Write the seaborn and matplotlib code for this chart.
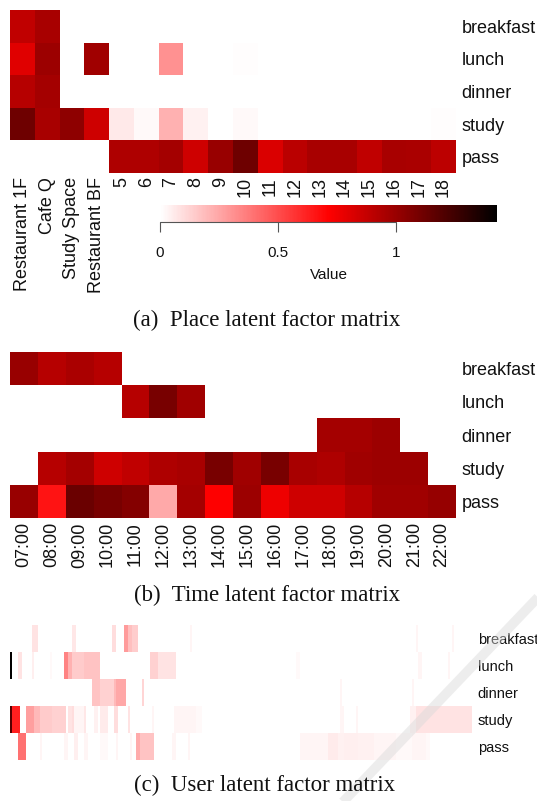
import numpy as np
import pandas as pd
import matplotlib
matplotlib.use("Agg")
import matplotlib.pyplot as plt
from matplotlib.colors import LinearSegmentedColormap
from matplotlib.lines import Line2D
import seaborn as sns

sns.set_theme(style="white")
plt.rcParams["font.family"] = ["Liberation Sans", "DejaVu Sans"]

# ---------------- data ----------------
factors = ["breakfast", "lunch", "dinner", "study", "pass"]

places = ["Restaurant 1F", "Cafe Q", "Study Space", "Restaurant BF",
          "5", "6", "7", "8", "9", "10", "11", "12", "13", "14", "15", "16", "17", "18"]
place_breakfast = [0.89, 0.96, 0, 0, 0, 0, 0, 0, 0, 0, 0, 0, 0, 0, 0, 0, 0, 0]
place_lunch     = [0.80, 0.99, 0, 0.98, 0, 0, 0.31, 0, 0, 0.01, 0, 0, 0, 0, 0, 0, 0, 0]
place_dinner    = [0.92, 0.97, 0, 0, 0, 0, 0, 0, 0, 0, 0, 0, 0, 0, 0, 0, 0, 0]
place_study     = [1.12, 0.96, 1.03, 0.85, 0.065, 0.02, 0.22, 0.04, 0, 0.02, 0, 0, 0, 0, 0, 0, 0, 0.01]
place_pass      = [0, 0, 0, 0, 0.94, 0.94, 0.97, 0.85, 1.00, 1.12, 0.82, 0.91, 0.96, 0.96, 0.89, 0.96, 0.95, 0.90]

hours = ["07:00", "08:00", "09:00", "10:00", "11:00", "12:00", "13:00", "14:00",
         "15:00", "16:00", "17:00", "18:00", "19:00", "20:00", "21:00", "22:00"]
time_breakfast = [1.00, 0.92, 0.95, 0.92, 0, 0, 0, 0, 0, 0, 0, 0, 0, 0, 0, 0]
time_lunch     = [0, 0, 0, 0, 0.92, 1.09, 0.98, 0, 0, 0, 0, 0, 0, 0, 0, 0]
time_dinner    = [0, 0, 0, 0, 0, 0, 0, 0, 0, 0, 0, 0.97, 0.97, 0.99, 0, 0]
time_study     = [0, 0.92, 0.97, 0.85, 0.89, 0.94, 0.96, 1.09, 0.98, 1.09, 0.96, 0.94, 0.98, 0.99, 0.99, 0]
time_pass      = [1.00, 0.66, 1.13, 1.09, 1.06, 0.245, 0.97, 0.72, 0.99, 0.76, 0.85, 0.85, 0.92, 0.98, 0.98, 1.01]

n_users = 231
# non-zero runs: (first user, last user, value)
user_breakfast = [(11, 13, 0.08), (31, 32, 0.07), (51, 52, 0.10), (57, 58, 0.28),
                  (59, 60, 0.18), (61, 63, 0.14), (90, 90, 0.03), (203, 203, 0.03),
                  (221, 221, 0.03)]
user_lunch = [(0, 0, 1.42), (4, 5, 0.08), (11, 11, 0.05), (20, 20, 0.02), (27, 28, 0.35),
              (29, 30, 0.22), (31, 36, 0.15), (37, 44, 0.17), (70, 73, 0.13),
              (74, 82, 0.08), (143, 144, 0.02), (204, 205, 0.03), (219, 219, 0.03)]
user_dinner = [(41, 44, 0.17), (45, 51, 0.13), (52, 52, 0.20), (53, 57, 0.25),
               (66, 66, 0.12), (165, 165, 0.03), (201, 201, 0.03)]
user_study = [(0, 0, 1.20), (1, 4, 0.63), (8, 11, 0.27), (12, 14, 0.20), (15, 20, 0.15),
              (21, 27, 0.13), (29, 30, 0.08), (31, 31, 0.10), (32, 36, 0.03), (37, 37, 0.07),
              (42, 43, 0.04), (45, 48, 0.06), (52, 53, 0.10), (59, 59, 0.08), (71, 71, 0.03),
              (82, 92, 0.03), (93, 95, 0.02), (165, 166, 0.03), (173, 173, 0.03),
              (200, 202, 0.04), (203, 230, 0.08)]
user_pass = [(4, 7, 0.40), (15, 15, 0.03), (27, 28, 0.03), (32, 33, 0.05), (37, 38, 0.03),
             (45, 48, 0.02), (53, 53, 0.03), (60, 60, 0.03), (63, 64, 0.24), (65, 71, 0.17),
             (81, 82, 0.03), (89, 89, 0.03), (145, 158, 0.03), (159, 163, 0.06),
             (164, 166, 0.04), (167, 173, 0.05), (174, 181, 0.04), (182, 192, 0.03),
             (193, 200, 0.02), (201, 207, 0.03), (208, 209, 0.02)]

vmax = 1.43
cmap = LinearSegmentedColormap.from_list("wrb", ["white", "red", "black"])

# ---------------- tables ----------------
df_place = pd.DataFrame([place_breakfast, place_lunch, place_dinner, place_study, place_pass],
                        index=factors, columns=places)
df_time = pd.DataFrame([time_breakfast, time_lunch, time_dinner, time_study, time_pass],
                       index=factors, columns=hours)


def runs_to_row(runs):
    row = np.zeros(n_users)
    for a, b, v in runs:
        row[a:b + 1] = v
    return row


df_user = pd.DataFrame([runs_to_row(r) for r in
                        [user_breakfast, user_lunch, user_dinner, user_study, user_pass]],
                       index=factors)

# ---------------- figure ----------------
W, H = 537, 801
fig = plt.figure(figsize=(W / 100, H / 100), dpi=100)


def rect(x0, y0, x1, y1):
    return [x0 / W, 1 - y1 / H, (x1 - x0) / W, (y1 - y0) / H]


ax_a = fig.add_axes(rect(10, 10, 456, 173))
cax = fig.add_axes(rect(160, 205, 497, 222))
ax_b = fig.add_axes(rect(10, 352, 456, 518))
ax_c = fig.add_axes(rect(10, 625, 472, 760))

lab_fs = 13

sns.heatmap(df_place, ax=ax_a, cmap=cmap, vmin=0, vmax=vmax, cbar_ax=cax,
            cbar_kws=dict(orientation="horizontal", ticks=[0, 0.5, 1]))
sns.heatmap(df_time, ax=ax_b, cmap=cmap, vmin=0, vmax=vmax, cbar=False)
sns.heatmap(df_user, ax=ax_c, cmap=cmap, vmin=0, vmax=vmax, cbar=False,
            xticklabels=False)

for ax, fs in [(ax_a, lab_fs), (ax_b, lab_fs), (ax_c, 10.5)]:
    ax.yaxis.tick_right()
    ax.tick_params(axis="y", length=0, pad=4, labelsize=fs, labelcolor="#111111")
    ax.set_yticklabels(factors, rotation=0, ha="left")
    ax.tick_params(axis="x", length=0, pad=3, labelsize=lab_fs, labelcolor="#111111")
    ax.set_xlabel("")
    ax.set_ylabel("")
    for s in ax.spines.values():
        s.set_visible(False)

ax_a.set_xticklabels(places, rotation=90, va="top")
ax_b.set_xticklabels(hours, rotation=90, va="top")

# colour key
cbar = ax_a.collections[0].colorbar
cbar.outline.set_visible(False)
cax.tick_params(axis="x", length=7, width=0.8, color="#555555", pad=10,
                labelsize=11, labelcolor="#111111", direction="out")
cax.set_xticklabels(["0", "0.5", "1"])
cax.plot([0, 1], [0, 0], transform=cax.get_xaxis_transform(), color="#555555",
         lw=0.8, clip_on=False)
cax.set_xlabel("Value", fontsize=11, labelpad=6, color="#111111")

# captions
cap_kw = dict(ha="center", va="center", fontsize=16.5, family="Liberation Serif",
              color="#111111")
fig.text(267 / W, 1 - 320 / H, "(a)  Place latent factor matrix", **cap_kw)
fig.text(267 / W, 1 - 595 / H, "(b)  Time latent factor matrix", **cap_kw)
fig.text(265 / W, 1 - 785 / H, "(c)  User latent factor matrix", **cap_kw)

# faint diagonal watermark stroke across the lower right corner
fig.add_artist(Line2D([340 / W, 545 / W], [1 - 805 / H, 1 - 590 / H],
                      transform=fig.transFigure, color="#d9d9d9", alpha=0.45,
                      lw=7, solid_capstyle="butt"))

fig.savefig("out.png", dpi=100)
